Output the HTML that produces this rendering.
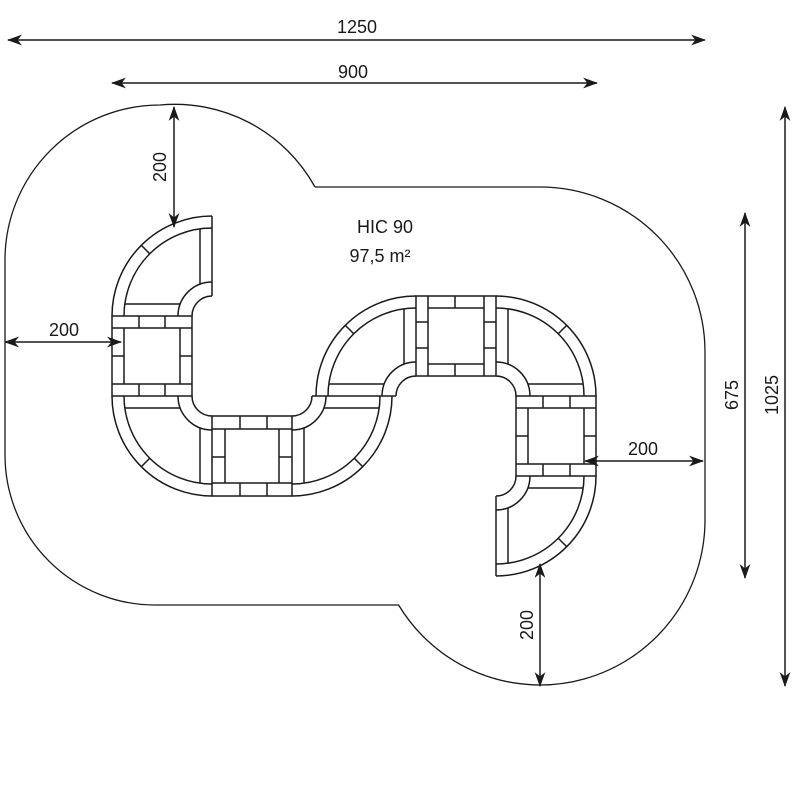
<!DOCTYPE html>
<html><head><meta charset="utf-8"><style>
html,body{margin:0;padding:0;background:#fff;}
svg{display:block;}
text{font-family:"Liberation Sans","DejaVu Sans",sans-serif;font-size:18px;fill:#1a1a1a;}
</style></head><body>
<svg width="800" height="800" viewBox="0 0 800 800" xmlns="http://www.w3.org/2000/svg">
<defs>
<marker id="a" viewBox="0 0 14 10" refX="13" refY="5" markerWidth="15" markerHeight="11" markerUnits="userSpaceOnUse" orient="auto-start-reverse">
<path d="M0 0 L14 5 L0 10 L4 5 Z" fill="#1a1a1a"/>
</marker>
</defs>
<g fill="none" stroke="#1a1a1a" stroke-width="1.3">
<path d="M315 187 L540 187 A165 165 0 0 1 705 352 L705 520 A165 165 0 0 1 398.6 605 L155 605 A150 150 0 0 1 5 455 L5 260 A155 155 0 0 1 160 105 A160 160 0 0 1 315 187"/>
</g>
<g fill="none" stroke="#1a1a1a" stroke-width="1.5">
<path d="M212 216 A100 100 0 0 0 112 316 M212 228 A88 88 0 0 0 124 316 M212 282 A34 34 0 0 0 178 316 M212 296 A20 20 0 0 0 192 316"/>
<path d="M212 216 L212 296 M200 284 L200 229 M180 304 L125 304 M150 254 L141 245"/>
<path d="M112 396 A100 100 0 0 0 212 496 M124 396 A88 88 0 0 0 212 484 M178 396 A34 34 0 0 0 212 430 M192 396 A20 20 0 0 0 212 416"/>
<path d="M180 408 L125 408 M200 428 L200 483 M150 458 L141 467"/>
<path d="M292 496 A100 100 0 0 0 392 396 M292 484 A88 88 0 0 0 380 396 M292 430 A34 34 0 0 0 326 396 M292 416 A20 20 0 0 0 312 396"/>
<path d="M304 428 L304 483 M324 408 L379 408 M354 458 L363 467"/>
<path d="M316 396 A100 100 0 0 1 416 296 M328 396 A88 88 0 0 1 416 308 M382 396 A34 34 0 0 1 416 362 M396 396 A20 20 0 0 1 416 376"/>
<path d="M384 384 L329 384 M404 364 L404 309 M354 334 L345 325 M312 396 L396 396"/>
<path d="M496 296 A100 100 0 0 1 596 396 M496 308 A88 88 0 0 1 584 396 M496 362 A34 34 0 0 1 530 396 M496 376 A20 20 0 0 1 516 396"/>
<path d="M508 364 L508 309 M528 384 L583 384 M558 334 L567 325"/>
<path d="M596 476 A100 100 0 0 1 496 576 M584 476 A88 88 0 0 1 496 564 M530 476 A34 34 0 0 1 496 510 M516 476 A20 20 0 0 1 496 496"/>
<path d="M528 488 L583 488 M508 508 L508 563 M558 538 L567 547 M496 496 L496 576"/>
<rect x="112" y="316" width="80" height="80"/>
<path d="M112 328 H192 M112 384 H192 M124 328 V384 M180 328 V384 M139 316 V328 M165 316 V328 M139 384 V396 M165 384 V396 M112 356 H124 M180 356 H192"/>
<rect x="212" y="416" width="80" height="80"/>
<path d="M212 429 H292 M212 483 H292 M225 429 V483 M279 429 V483 M240 416 V429 M267 416 V429 M240 483 V496 M267 483 V496 M212 457 H225 M279 457 H292"/>
<rect x="416" y="296" width="80" height="80"/>
<path d="M428 296 V376 M484 296 V376 M428 308 H484 M428 364 H484 M416 322 H428 M416 348 H428 M484 322 H496 M484 348 H496 M455 296 V308 M455 364 V376"/>
<rect x="516" y="396" width="80" height="80"/>
<path d="M516 408 H596 M516 464 H596 M528 408 V464 M584 408 V464 M543 396 V408 M570 396 V408 M543 464 V476 M570 464 V476 M516 436 H528 M584 436 H596"/>
</g>
<g stroke="#1a1a1a" stroke-width="1.5" fill="none">
<line x1="8" y1="40" x2="705" y2="40" marker-start="url(#a)" marker-end="url(#a)"/>
<line x1="112" y1="83" x2="597" y2="83" marker-start="url(#a)" marker-end="url(#a)"/>
<line x1="174" y1="107" x2="174" y2="227" marker-start="url(#a)" marker-end="url(#a)"/>
<line x1="5" y1="342" x2="121" y2="342" marker-start="url(#a)" marker-end="url(#a)"/>
<line x1="585" y1="461" x2="703" y2="461" marker-start="url(#a)" marker-end="url(#a)"/>
<line x1="540" y1="564" x2="540" y2="686" marker-start="url(#a)" marker-end="url(#a)"/>
<line x1="745" y1="213" x2="745" y2="578" marker-start="url(#a)" marker-end="url(#a)"/>
<line x1="785" y1="107" x2="785" y2="686" marker-start="url(#a)" marker-end="url(#a)"/>
</g>
<text x="357" y="33" text-anchor="middle">1250</text>
<text x="353" y="78" text-anchor="middle">900</text>
<text x="64" y="336" text-anchor="middle">200</text>
<text x="643" y="455" text-anchor="middle">200</text>
<text transform="translate(166,167) rotate(-90)" text-anchor="middle">200</text>
<text transform="translate(533,625) rotate(-90)" text-anchor="middle">200</text>
<text transform="translate(738,395) rotate(-90)" text-anchor="middle">675</text>
<text transform="translate(778,395) rotate(-90)" text-anchor="middle">1025</text>
<text x="385" y="233" text-anchor="middle">HIC 90</text>
<text x="380" y="262" text-anchor="middle">97,5 m²</text>
</svg>
</body></html>
